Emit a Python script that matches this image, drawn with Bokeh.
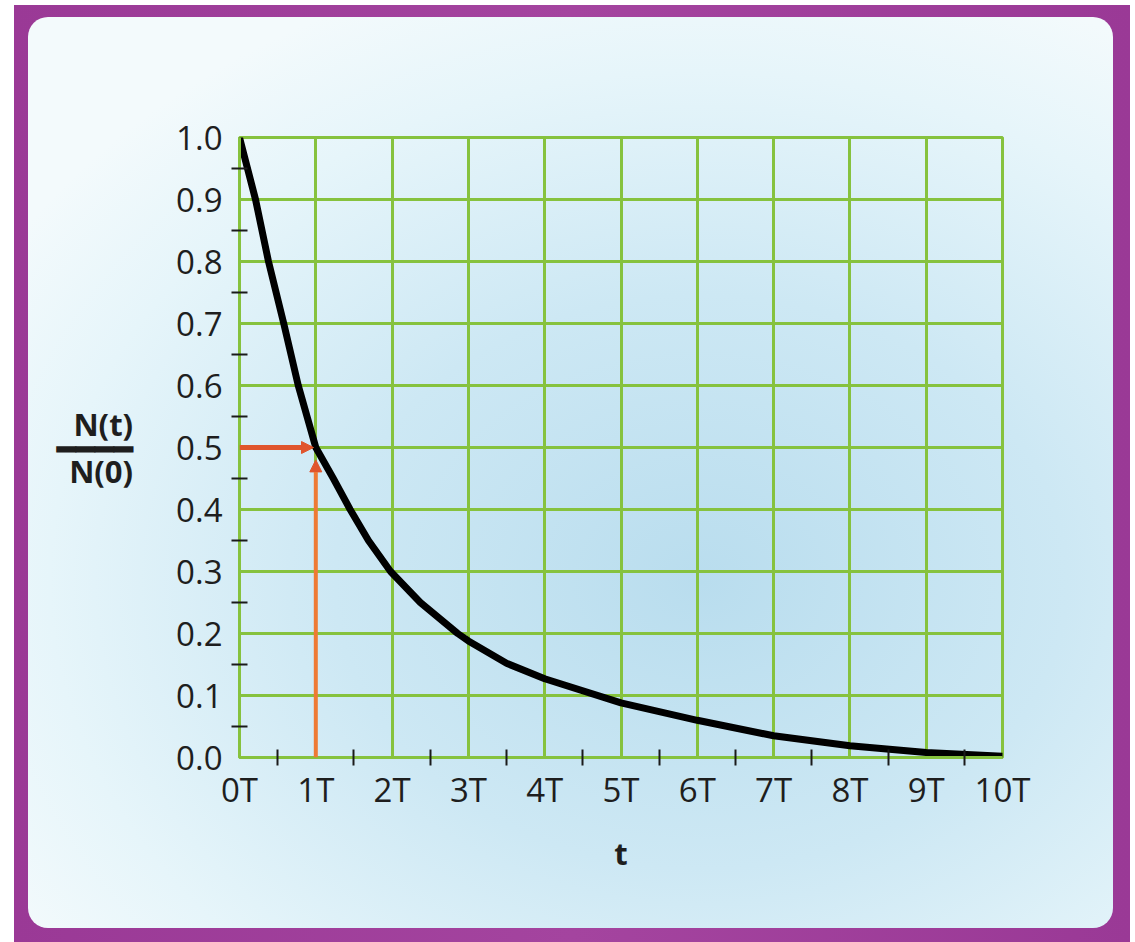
from bokeh.plotting import figure
from bokeh.layouts import column
from bokeh.models import Range1d, FixedTicker, Arrow, NormalHead
from bokeh.embed import file_html
from bokeh.resources import INLINE

# ---- data ----
t_values = [0.0, 0.21, 0.38, 0.58, 0.77, 1.0, 1.23, 1.45, 1.69, 1.98, 2.37, 2.86,
            3.0, 3.5, 4.0, 5.0, 6.0, 7.0, 8.0, 9.0, 10.0]
ratio_values = [1.0, 0.9, 0.8, 0.7, 0.6, 0.5, 0.45, 0.4, 0.35, 0.3, 0.25, 0.2,
                0.188, 0.152, 0.127, 0.088, 0.06, 0.035, 0.019, 0.008, 0.002]

x_ticks = [0, 1, 2, 3, 4, 5, 6, 7, 8, 9, 10]
x_tick_labels = ["0T", "1T", "2T", "3T", "4T", "5T", "6T", "7T", "8T", "9T", "10T"]
x_minor = [0.5, 1.5, 2.5, 3.5, 4.5, 5.5, 6.5, 7.5, 8.5, 9.5]
y_ticks = [0.0, 0.1, 0.2, 0.3, 0.4, 0.5, 0.6, 0.7, 0.8, 0.9, 1.0]
y_tick_labels = ["0.0", "0.1", "0.2", "0.3", "0.4", "0.5", "0.6", "0.7", "0.8", "0.9", "1.0"]
y_minor = [0.05, 0.15, 0.25, 0.35, 0.45, 0.55, 0.65, 0.75, 0.85, 0.95]

half_life = 1.0
half_value = 0.5
x_label = "t"
y_label = "N(t)\n\u2501\u2501\u2501\u2501\nN(0)"

# ---- styles ----
GREEN = "#86c23e"
FONT = "Open Sans"
TEXT = "#1e1e1e"

p = figure(width=1085, height=911, output_backend="svg", toolbar_location=None,
           x_range=Range1d(0, 10), y_range=Range1d(0, 1),
           min_border_left=211, min_border_right=111,
           min_border_top=120, min_border_bottom=171)

p.border_fill_color = None
p.background_fill_color = None
p.outline_line_color = GREEN
p.outline_line_width = 3
p.styles = {
    "background": "radial-gradient(ellipse 75% 70% at 62% 62%, #b9ddee 0%, #cde8f4 45%, #e6f5fa 80%, #f3fafc 100%)",
    "border-radius": "20px",
}

for ax, ticks, minor, labels in ((p.xaxis[0], x_ticks, x_minor, x_tick_labels),
                                 (p.yaxis[0], y_ticks, y_minor, y_tick_labels)):
    ax.ticker = FixedTicker(ticks=ticks, minor_ticks=minor)
    ax.major_label_overrides = {k: v for k, v in zip(ticks, labels)}
    ax.axis_line_color = GREEN
    ax.axis_line_width = 3
    ax.major_tick_line_color = None
    ax.major_tick_in = 0
    ax.major_tick_out = 0
    ax.minor_tick_line_color = "#1a1a1a"
    ax.minor_tick_line_width = 2
    ax.minor_tick_in = 8
    ax.minor_tick_out = 8
    ax.major_label_text_font = FONT
    ax.major_label_text_font_size = "33px"
    ax.major_label_text_color = TEXT
    ax.axis_label_text_font = FONT
    ax.axis_label_text_font_size = "31px"
    ax.axis_label_text_font_style = "bold"
    ax.axis_label_text_color = TEXT

p.xaxis.major_label_standoff = 1
p.yaxis.major_label_standoff = 9
p.xaxis.axis_label = x_label
p.xaxis.axis_label_standoff = 17
p.yaxis.axis_label = y_label
p.yaxis.axis_label_orientation = "horizontal"
p.yaxis.axis_label_standoff = 40
p.yaxis.axis_label_text_line_height = 0.55

p.xgrid.ticker = FixedTicker(ticks=x_ticks)
p.ygrid.ticker = FixedTicker(ticks=y_ticks)
p.grid.grid_line_color = GREEN
p.grid.grid_line_width = 3
p.grid.grid_line_alpha = 1.0

# half-life arrows
p.add_layout(Arrow(x_start=0, y_start=half_value, x_end=half_life - 0.03, y_end=half_value,
                   line_color="#e0552d", line_width=5,
                   end=NormalHead(size=12, fill_color="#e0552d", line_color="#e0552d")))
p.add_layout(Arrow(x_start=half_life, y_start=0, x_end=half_life, y_end=half_value - 0.02,
                   line_color="#ee7a34", line_width=4,
                   end=NormalHead(size=12, fill_color="#e0552d", line_color="#e0552d")))

p.line(t_values, ratio_values, line_color="black", line_width=7, line_join="round", line_cap="round")

layout = column(p, styles={
    "background": "linear-gradient(90deg, #9a3996 0%, #a4449f 50%, #9a3996 100%)",
    "padding": "12px 17px 14px 14px",
    "margin-left": "14px",
    "margin-top": "5px",
})

open("out.html", "w").write(file_html(layout, INLINE))
